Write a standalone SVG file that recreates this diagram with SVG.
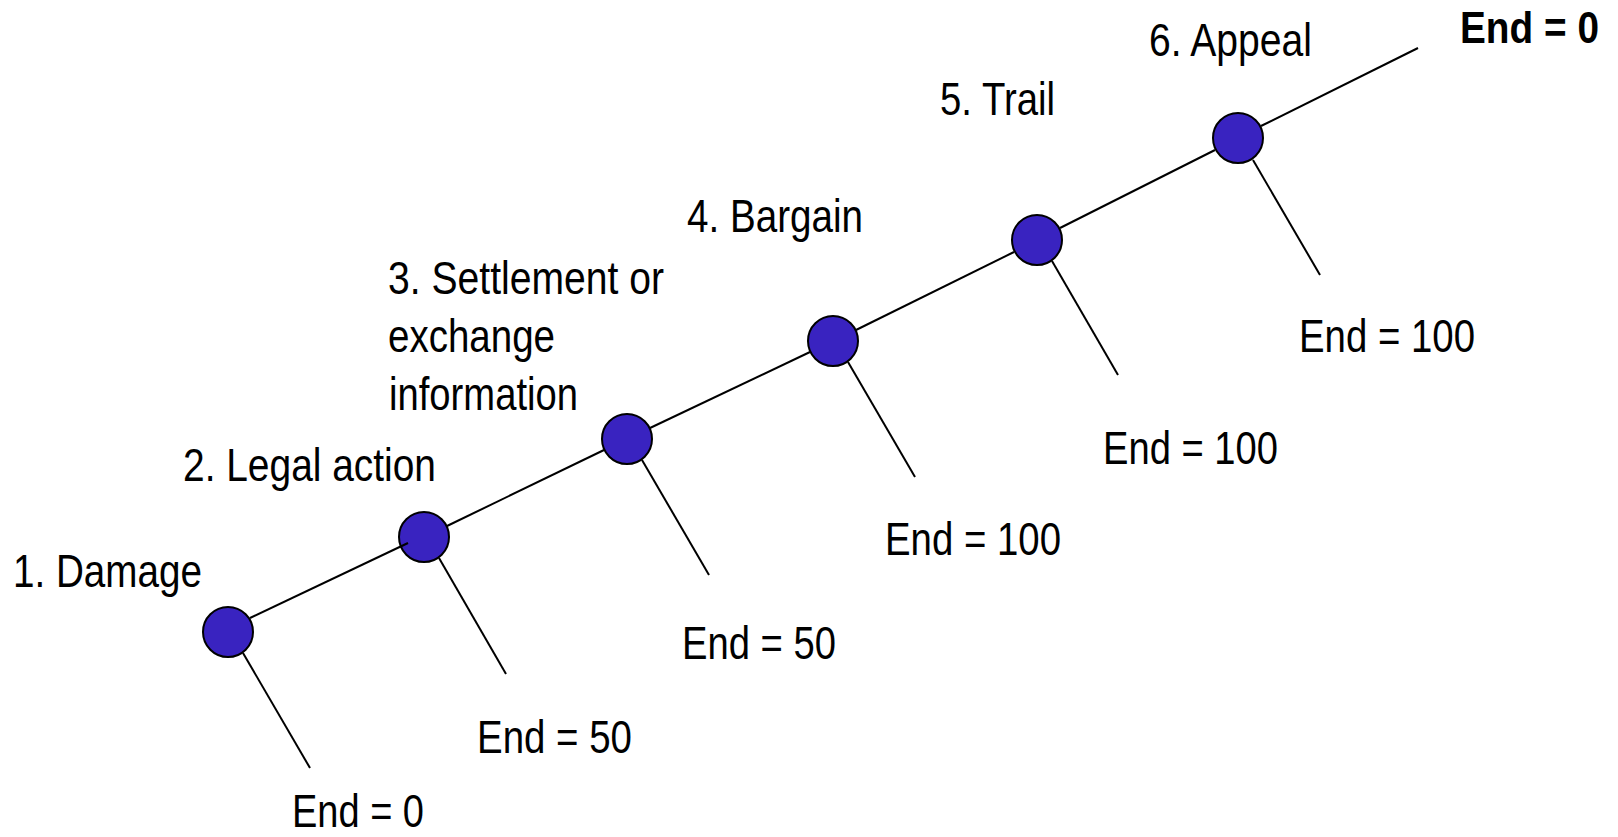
<svg xmlns="http://www.w3.org/2000/svg" width="1618" height="837" viewBox="0 0 1618 837">
  <style>
    .node { fill: #3923c0; stroke: #000; stroke-width: 2; }
    .edge { stroke: #000; stroke-width: 2; fill: none; }
    .lbl { font-family: "Liberation Sans", Arial, sans-serif; font-size: 46px; fill: #000; }
    .bold { font-weight: bold; font-size: 44px; }
  </style>
  <rect width="1618" height="837" fill="#fff"/>

  <!-- decision points along the litigation path -->
  <g id="n1-damage">
    <circle class="node" cx="228" cy="632" r="25"/>
    <text class="lbl" x="13" y="587" textLength="189" lengthAdjust="spacingAndGlyphs">1. Damage</text>
    <text class="lbl" x="292" y="827" textLength="132" lengthAdjust="spacingAndGlyphs">End = 0</text>
  </g>
  <g id="n2-legal-action">
    <circle class="node" cx="424" cy="537" r="25"/>
    <text class="lbl" x="183" y="481" textLength="253" lengthAdjust="spacingAndGlyphs">2. Legal action</text>
    <text class="lbl" x="477" y="753" textLength="155" lengthAdjust="spacingAndGlyphs">End = 50</text>
  </g>
  <g id="n3-settlement">
    <circle class="node" cx="627" cy="439" r="25"/>
    <text class="lbl" x="388" y="294" textLength="276" lengthAdjust="spacingAndGlyphs">3. Settlement or</text>
    <text class="lbl" x="388" y="352" textLength="167" lengthAdjust="spacingAndGlyphs">exchange</text>
    <text class="lbl" x="389" y="410" textLength="189" lengthAdjust="spacingAndGlyphs">information</text>
    <text class="lbl" x="682" y="659" textLength="154" lengthAdjust="spacingAndGlyphs">End = 50</text>
  </g>
  <g id="n4-bargain">
    <circle class="node" cx="833" cy="341" r="25"/>
    <text class="lbl" x="687" y="232" textLength="176" lengthAdjust="spacingAndGlyphs">4. Bargain</text>
    <text class="lbl" x="885" y="555" textLength="176" lengthAdjust="spacingAndGlyphs">End = 100</text>
  </g>
  <g id="n5-trail">
    <circle class="node" cx="1037" cy="240" r="25"/>
    <text class="lbl" x="940" y="115" textLength="115" lengthAdjust="spacingAndGlyphs">5. Trail</text>
    <text class="lbl" x="1103" y="464" textLength="175" lengthAdjust="spacingAndGlyphs">End = 100</text>
  </g>
  <g id="n6-appeal">
    <circle class="node" cx="1238" cy="138" r="25"/>
    <text class="lbl" x="1149" y="56" textLength="163" lengthAdjust="spacingAndGlyphs">6. Appeal</text>
    <text class="lbl" x="1299" y="352" textLength="176" lengthAdjust="spacingAndGlyphs">End = 100</text>
  </g>
  <g id="final-outcome">
    <text class="lbl bold" x="1460" y="43" textLength="139" lengthAdjust="spacingAndGlyphs">End = 0</text>
  </g>

  <!-- connectors: main path and exit branches -->
  <g id="connectors">
    <line class="edge" x1="250" y1="618" x2="408" y2="543"/>
    <line class="edge" x1="447" y1="526" x2="604" y2="450"/>
    <line class="edge" x1="650" y1="428" x2="810" y2="352"/>
    <line class="edge" x1="856" y1="330" x2="1014" y2="252"/>
    <line class="edge" x1="1060" y1="228" x2="1215" y2="150"/>
    <line class="edge" x1="1261" y1="126" x2="1418" y2="48"/>

    <line class="edge" x1="243" y1="653" x2="310" y2="768"/>
    <line class="edge" x1="439" y1="558" x2="506" y2="674"/>
    <line class="edge" x1="642" y1="460" x2="709" y2="575"/>
    <line class="edge" x1="848" y1="362" x2="915" y2="477"/>
    <line class="edge" x1="1052" y1="261" x2="1118" y2="375"/>
    <line class="edge" x1="1253" y1="160" x2="1320" y2="275"/>
  </g>
</svg>
